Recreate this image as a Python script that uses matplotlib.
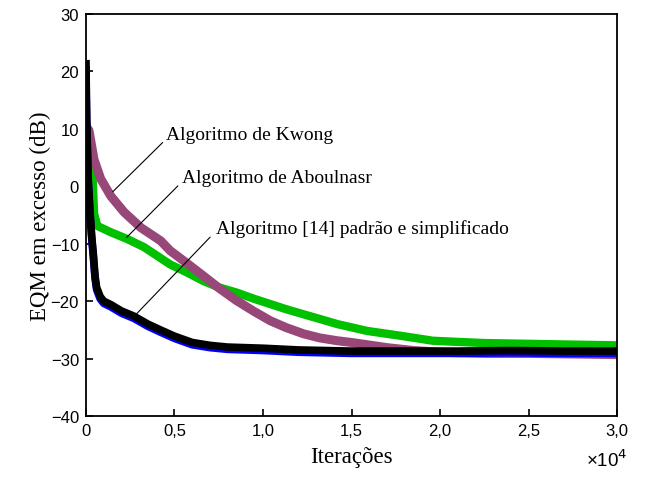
import numpy as np
import matplotlib.pyplot as plt

# curvas de EQM em excesso (dB)
kwong_x = [0, 170, 450, 830, 1400, 2150, 3100, 4220, 4750, 5700, 6630, 7500, 8500, 9500,
           10400, 11300, 12300, 13200, 14200, 15000, 15900, 17000, 18500, 20000, 22500,
           25000, 27500, 30000]
kwong_y = [10.5, 9.7, 4.7, 1.3, -1.7, -4.5, -7.2, -9.5, -11.2, -13.4, -15.6, -17.7, -19.9,
           -21.8, -23.4, -24.6, -25.7, -26.4, -26.9, -27.2, -27.6, -28.1, -28.6, -28.9,
           -29.1, -29.1, -29.2, -29.3]

aboul_x = [0, 150, 300, 360, 420, 460, 640, 1400, 2340, 3280, 4750, 5700, 6630, 7500, 8500,
           9500, 10400, 11300, 12300, 13200, 14200, 15900, 17700, 19600, 21000, 22500, 26200,
           30000]
aboul_y = [8, 5.5, 3.5, 2.5, -2, -4.8, -6.9, -8.0, -9.2, -10.6, -13.6, -15.0, -16.5, -17.6,
           -18.5, -19.6, -20.5, -21.4, -22.3, -23.1, -24.0, -25.2, -26.0, -26.9, -27.1, -27.3,
           -27.5, -27.7]

alg14_x = [0, 20, 40, 70, 130, 220, 320, 420, 510, 600, 800, 1000, 1400, 2000, 2700, 3500,
           4200, 5000, 6000, 7000, 8000, 10000, 12000, 15000, 18000, 21000, 24000, 27000, 30000]
alg14_y = [22, 16, 12, 8, 1, -4, -8.6, -12, -15.6, -17.6, -19.2, -20, -20.6, -21.7, -22.6,
           -24.0, -25.0, -26.1, -27.2, -27.7, -28.0, -28.2, -28.5, -28.7, -28.7, -28.7, -28.6,
           -28.7, -28.7]
simp_y = [21, 15, 11, 7, 0.5, -4.5, -9, -12.5, -16, -18, -19.6, -20.4, -21, -22.1, -23,
          -24.4, -25.4, -26.5, -27.6, -28.1, -28.4, -28.6, -28.9, -29.1, -29.1, -29.1, -29.0,
          -29.1, -29.1]

xticks = [0, 5000, 10000, 15000, 20000, 25000, 30000]
xtick_labels = ['0', '0,5', '1,0', '1,5', '2,0', '2,5', '3,0']
yticks = [-40, -30, -20, -10, 0, 10, 20, 30]

fig = plt.figure(figsize=(6.48, 4.81), dpi=100)
ax = fig.add_axes([0.1327, 0.1331, 0.8195, 0.8357])

ax.plot(aboul_x, aboul_y, color='#00C000', lw=6.0, solid_capstyle='butt')
ax.plot(kwong_x, kwong_y, color='#984878', lw=6.5, solid_capstyle='butt')
ax.plot(alg14_x, simp_y, color='#0000FF', lw=5.5, solid_capstyle='butt')
ax.plot(alg14_x, alg14_y, color='black', lw=5.5, solid_capstyle='butt')

ax.set_xlim(0, 30000)
ax.set_ylim(-40, 30)
ax.set_xticks(xticks)
ax.set_xticklabels(xtick_labels)
ax.set_yticks(yticks)
ax.tick_params(direction='in', length=5, width=1.2, labelsize=12, pad=5,
               top=False, right=False)
for lab in ax.get_xticklabels() + ax.get_yticklabels():
    lab.set_family('Liberation Sans')
for s in ax.spines.values():
    s.set_linewidth(1.3)

serif = 'Liberation Serif'
ax.set_xlabel('Iterações', family=serif, fontsize=16.5, labelpad=6)
ax.set_ylabel('EQM em excesso (dB)', family=serif, fontsize=16.5, labelpad=0)
ax.text(0.981, -0.107, '×10$^{4}$', transform=ax.transAxes, family='Liberation Sans',
        fontsize=13.5, ha='center', va='center')

# rotulos com linhas de chamada
ax.annotate('Algoritmo de Kwong', xy=(1508, -0.96), xytext=(4520, 9.1),
            family=serif, fontsize=14, va='center', ha='left',
            arrowprops=dict(arrowstyle='-', color='black', lw=0.8, shrinkA=0, shrinkB=0,
                            relpos=(-0.02, 0.0)))
ax.annotate('Algoritmo de Aboulnasr', xy=(2299, -8.9), xytext=(5406, 1.55),
            family=serif, fontsize=14, va='center', ha='left',
            arrowprops=dict(arrowstyle='-', color='black', lw=0.8, shrinkA=0, shrinkB=0,
                            relpos=(-0.02, 0.0)))
ax.annotate('Algoritmo [14] padrão e simplificado', xy=(2674, -22.8), xytext=(7345, -7.3),
            family=serif, fontsize=14, va='center', ha='left',
            arrowprops=dict(arrowstyle='-', color='black', lw=0.8, shrinkA=0, shrinkB=0,
                            relpos=(-0.02, 0.0)))

fig.savefig('out.png', dpi=100)
